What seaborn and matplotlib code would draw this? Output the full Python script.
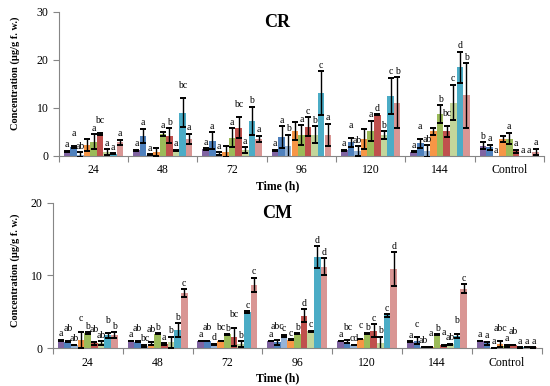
import numpy as np
import pandas as pd
import matplotlib
matplotlib.use('Agg')
import matplotlib.pyplot as plt
import seaborn as sns

plt.rcParams['font.family'] = ['Liberation Serif', 'DejaVu Serif']

# Groupes (temps) et séries (9 barres par groupe)
groups = ['24', '48', '72', '96', '120', '144', 'Control']
series = ['S1', 'S2', 'S3', 'S4', 'S5', 'S6', 'S7', 'S8', 'S9']
colors = ['#8064A2', '#4F81BD', '#95B3D7', '#F79646', '#9BBB59',
          '#C0504D', '#C3D69B', '#4BACC6', '#D99694']

# Panneau CR : moyennes, erreurs et lettres (une ligne par groupe)
cr_mean = [
    [1.0, 1.9, 0.3, 2.3, 3.0, 4.5, 0.8, 0.5, 2.8],
    [1.2, 4.2, 0.3, 0.8, 4.6, 4.2, 1.2, 9.0, 3.5],
    [1.4, 3.2, 0.5, 0.9, 3.8, 5.9, 1.2, 7.3, 3.5],
    [1.2, 3.9, 2.0, 5.2, 4.3, 6.1, 4.4, 13.1, 4.4],
    [1.2, 2.8, 1.0, 3.5, 5.2, 8.6, 4.4, 12.5, 11.1],
    [0.9, 2.6, 1.0, 5.1, 8.7, 5.1, 11.1, 18.4, 12.6],
    [2.1, 1.8, 0.0, 3.5, 3.6, 1.0, 0.0, 0.0, 0.9],
]
cr_err = [
    [0.1, 0.2, 0.5, 1.2, 1.5, 0.25, 0.6, 0.1, 0.6],
    [0.1, 1.5, 0.1, 0.8, 0.4, 1.6, 0.1, 3.0, 1.1],
    [0.2, 1.7, 0.3, 1.1, 2.0, 2.1, 0.6, 2.9, 0.7],
    [0.1, 2.3, 2.4, 1.8, 2.1, 1.9, 1.8, 4.5, 2.3],
    [0.1, 0.9, 1.0, 2.0, 2.1, 0.1, 0.8, 3.8, 5.3],
    [0.1, 0.9, 1.2, 0.7, 1.9, 1.1, 3.7, 3.3, 6.7],
    [0.7, 0.5, 0.0, 0.6, 1.2, 0.3, 0.0, 0.0, 0.6],
]
cr_letters = [
    ['a', 'a', 'ab', '', 'a', 'bc', 'a', 'a', 'a'],
    ['a', 'a', 'a', '', 'a', 'b', 'a', 'bc', 'a'],
    ['a', 'a', 'a', '', 'a', 'bc', 'a', 'b', 'a'],
    ['a', 'a', 'b', '', 'a', 'c', 'b', 'c', 'a'],
    ['a', 'a', 'ab', '', 'a', 'd', 'b', 'c', 'b'],
    ['a', 'a', 'ab', '', 'b', 'bc', 'c', 'd', 'b'],
    ['b', 'a', 'a', '', 'a', 'a', 'a', 'a', 'a'],
]

# Panneau CM
cm_mean = [
    [1.1, 0.9, 0.45, 1.15, 2.1, 0.65, 0.7, 1.75, 1.8],
    [1.0, 0.9, 0.35, 0.6, 2.0, 0.55, 0.8, 2.5, 7.6],
    [1.0, 1.0, 0.55, 1.0, 1.9, 1.55, 0.6, 5.0, 8.7],
    [1.0, 0.8, 1.7, 1.15, 2.0, 4.45, 2.3, 12.5, 11.2],
    [1.0, 0.9, 0.45, 1.25, 2.0, 2.4, 0.65, 4.5, 10.9],
    [0.9, 1.05, 0.15, 0.15, 1.9, 0.4, 0.55, 1.7, 8.2],
    [1.0, 0.7, 0.05, 0.55, 0.35, 0.45, 0.1, 0.15, 0.1],
]
cm_err = [
    [0.05, 0.05, 0.05, 1.1, 0.1, 0.15, 0.3, 0.3, 0.4],
    [0.05, 0.05, 0.15, 0.2, 0.1, 0.15, 0.8, 0.9, 0.5],
    [0.05, 0.05, 0.05, 0.05, 0.05, 1.25, 0.4, 0.1, 1.0],
    [0.05, 0.35, 0.15, 0.05, 0.05, 0.9, 0.1, 1.5, 1.2],
    [0.05, 0.2, 0.05, 0.05, 0.05, 0.9, 0.95, 0.2, 2.3],
    [0.05, 0.45, 0.05, 0.05, 0.05, 0.05, 0.05, 0.3, 0.6],
    [0.05, 0.2, 0.02, 0.4, 0.15, 0.05, 0.02, 0.02, 0.02],
]
cm_letters = [
    ['a', 'ab', 'ab', 'c', 'b', 'ab', 'ab', 'b', 'b'],
    ['a', 'ab', 'bc', 'ab', 'b', 'a', 'b', 'b', 'c'],
    ['a', 'ab', 'd', 'bc', 'b', 'bc', 'b', 'c', 'c'],
    ['a', 'abc', 'c', 'c', 'b', 'd', 'c', 'd', 'd'],
    ['a', 'bc', 'cd', 'c', 'b', 'c', 'b', 'c', 'd'],
    ['a', 'c', 'ab', 'a', 'b', 'a', 'ab', 'b', 'c'],
    ['a', 'a', 'a', 'abc', 'a', 'ab', 'a', 'a', 'a'],
]

GRIS = '#868686'


def tracer_panneau(ax, moyennes, erreurs, lettres, ymax, yticks):
    lignes = []
    for g, vals in zip(groups, moyennes):
        for s, v in zip(series, vals):
            lignes.append({'Temps': g, 'Serie': s, 'Valeur': v})
    df = pd.DataFrame(lignes)
    sns.barplot(data=df, x='Temps', y='Valeur', hue='Serie', order=groups,
                hue_order=series, palette=colors, saturation=1,
                width=9 / 10.5, errorbar=None, linewidth=0, legend=False, ax=ax)

    # on copie la liste : ax.errorbar ajoute ses propres conteneurs
    barres = list(ax.containers)
    n = len(series)
    for i, cont in enumerate(barres):
        for j, bar in enumerate(cont):
            m = moyennes[j][i]
            e = erreurs[j][i]
            x = bar.get_x() + bar.get_width() / 2
            if m > 0 or e > 0:
                ax.errorbar(x, m, yerr=e, fmt='none', ecolor='black',
                            elinewidth=1.0, capsize=2.4, capthick=1.4, zorder=5)
            lab = lettres[j][i]
            if lab:
                # décalage en quinconce quand une étiquette voisine est longue
                voisins = [lettres[j][k] for k in (i - 1, i + 1) if 0 <= k < n]
                dy = 1
                if i % 2 == 1 and (len(lab) > 1 or any(len(v) > 1 for v in voisins)):
                    dy = 6
                ax.annotate(lab, (x, m + e), xytext=(0, dy),
                            textcoords='offset points', ha='center', va='bottom',
                            fontsize=7)

    ax.set_xlim(-0.5, len(groups) - 0.5)
    ax.set_ylim(0, ymax)
    ax.set_yticks(yticks)
    ax.set_xticks(range(len(groups)))
    ax.set_xticklabels(groups, fontsize=8.5)
    ax.set_xticks(np.arange(-0.5, len(groups), 1), minor=True)
    ax.tick_params(axis='x', which='major', length=0, pad=6)
    ax.tick_params(axis='x', which='minor', length=4, color=GRIS, width=0.8)
    ax.tick_params(axis='y', length=4, color=GRIS, width=0.8, labelsize=8.5)
    ax.set_xlabel('')
    ax.set_ylabel('')
    for cote in ['top', 'right']:
        ax.spines[cote].set_visible(False)
    for cote in ['left', 'bottom']:
        ax.spines[cote].set_color(GRIS)
        ax.spines[cote].set_linewidth(0.8)


fig = plt.figure(figsize=(5.5, 3.86), dpi=100)
ax_cr = fig.add_axes([0.107, 0.596, 0.882, 0.374])
ax_cm = fig.add_axes([0.096, 0.098, 0.889, 0.377])

tracer_panneau(ax_cr, cr_mean, cr_err, cr_letters, 30, [0, 10, 20, 30])
tracer_panneau(ax_cm, cm_mean, cm_err, cm_letters, 20, [0, 10, 20])

fig.text(0.504, 0.943, 'CR', ha='center', va='center', fontsize=13, fontweight='bold')
fig.text(0.504, 0.448, 'CM', ha='center', va='center', fontsize=13, fontweight='bold')
fig.text(0.504, 0.518, 'Time (h)', ha='center', va='center', fontsize=8.5, fontweight='bold')
fig.text(0.504, 0.021, 'Time (h)', ha='center', va='center', fontsize=8.5, fontweight='bold')
fig.text(0.027, 0.81, 'Concentration (µg/g f. w.)', ha='center', va='center',
         rotation=90, fontsize=7.5, fontweight='bold')
fig.text(0.027, 0.30, 'Concentration (µg/g f. w.)', ha='center', va='center',
         rotation=90, fontsize=7.5, fontweight='bold')

fig.savefig('out.png', dpi=100)
